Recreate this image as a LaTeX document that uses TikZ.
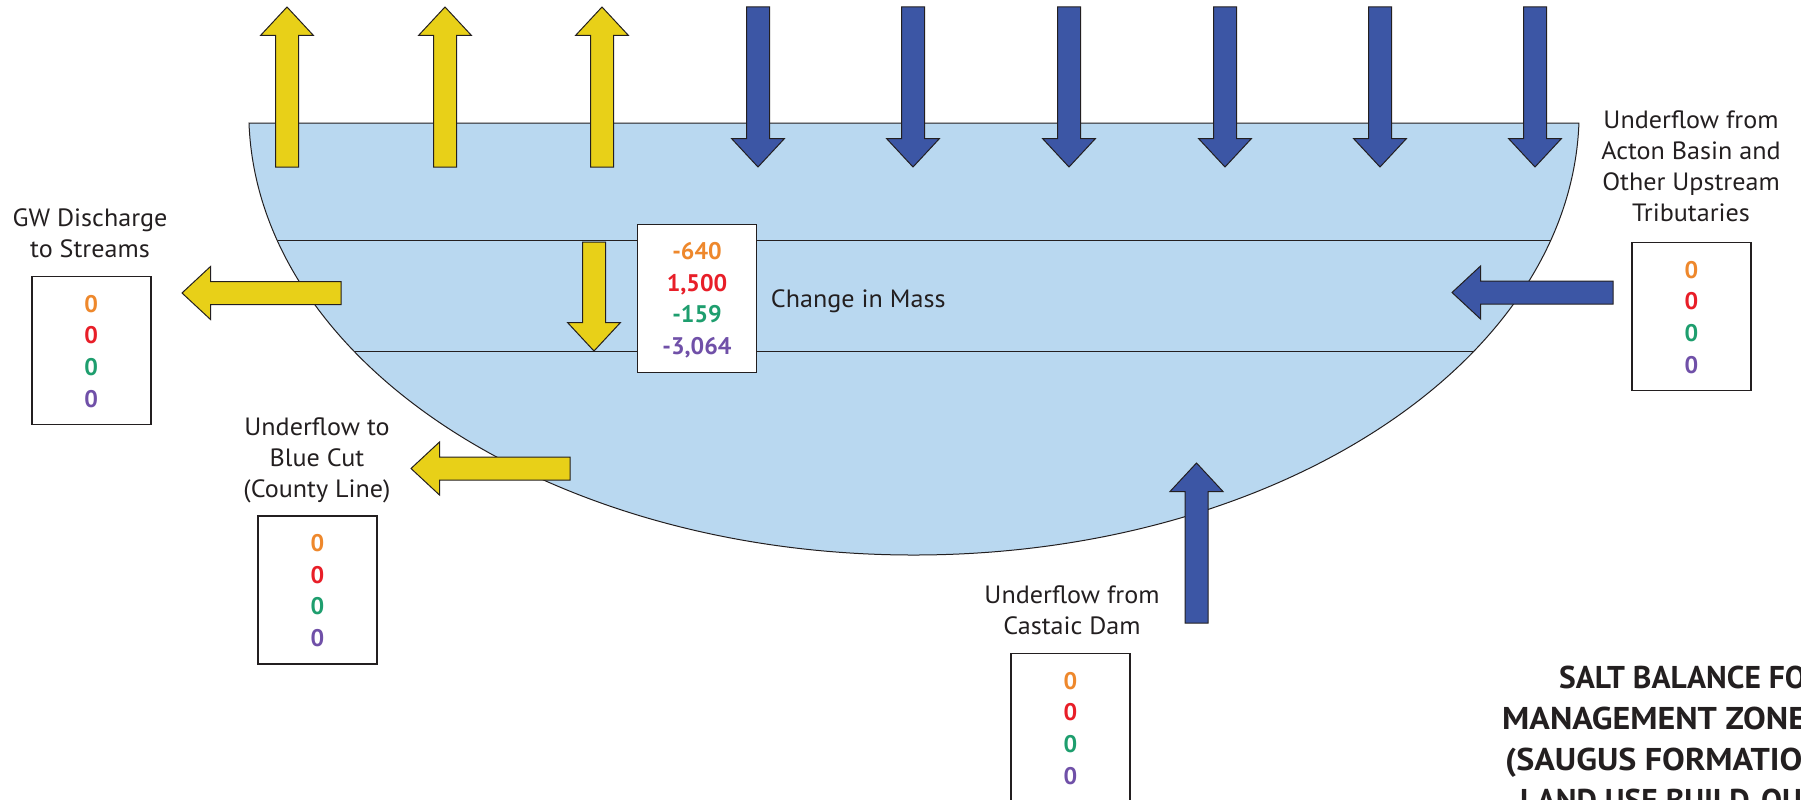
\documentclass[tikz,border=0pt]{standalone}
\usepackage{fontspec}
\setmainfont{PT Sans}
\newfontfamily\lblfont{PT Sans}[FakeStretch=1.045]
\newfontfamily\widefont{PT Sans}[FakeStretch=1.08]
\definecolor{tankblue}{RGB}{185,216,240}
\definecolor{ylw}{RGB}{232,208,24}
\definecolor{blu}{RGB}{60,86,165}
\definecolor{vorange}{RGB}{238,136,44}
\definecolor{vred}{RGB}{232,30,40}
\definecolor{vgreen}{RGB}{30,158,110}
\definecolor{vpurple}{RGB}{112,80,168}
\definecolor{ink}{RGB}{35,31,32}
\tikzset{
  pics/barrow/.style={code={\path[pic actions] (0,0) -- (-28.5,26.5) -- (-28.5,11.5) -- (-#1,11.5) -- (-#1,-11.5) -- (-28.5,-11.5) -- (-28.5,-26.5) -- cycle;}},
  yarrow/.style={draw=ink, fill=ylw, line width=1pt, line join=miter},
  barr/.style={draw=ink, fill=blu, line width=1pt, line join=miter},
  valbox/.style={draw=ink, fill=white, line width=1.6pt, minimum width=119pt, minimum height=148pt, inner sep=0pt},
  vals/.style={font=\fontsize{24}{31.7}\selectfont\bfseries, align=center, inner sep=0pt, text depth=0pt, anchor=south},
  lbl/.style={font=\lblfont\fontsize{25}{31}\selectfont, text=ink, align=center, inner sep=0pt, text depth=0pt, anchor=south},
  ttl/.style={font=\fontsize{31.5}{41}\selectfont\bfseries, text=ink, inner sep=0pt, anchor=base west},
  ttlw/.style={ttl, font=\widefont\fontsize{31.5}{41}\selectfont\bfseries},
}
\newcommand{\zeros}{{\color{vorange}0}\\{\color{vred}0}\\{\color{vgreen}0}\\{\color{vpurple}0}}
\begin{document}
\begin{tikzpicture}[x=1pt,y=-1pt]
\clip (0,0) rectangle (1801,800);
% tank
\filldraw[fill=tankblue, draw=ink, line width=1pt] (249,123) arc[start angle=178.58, end angle=1.42, x radius=665.2, y radius=443] -- cycle;
\draw[ink, line width=1pt] (277.5,240.7) -- (1550.5,240.7);
\draw[ink, line width=1pt] (354,351) -- (1474,351);
% up (yellow) arrows at top
\foreach \x in {287,445,602} \pic[yarrow, rotate=90] at (\x,7) {barrow=160};
% down (blue) arrows at top
\foreach \x in {758,913,1069,1225,1380,1535} \pic[barr, rotate=-90] at (\x,167) {barrow=160};
% middle yellow arrow
\pic[yarrow, rotate=-90] at (594,351) {barrow=109};
% left arrows
\pic[yarrow, rotate=180] at (182,293) {barrow=159};
\pic[yarrow, rotate=180] at (411,468.5) {barrow=159};
% right blue arrow
\pic[barr, rotate=180] at (1452,292.5) {barrow=161};
% bottom blue arrow
\pic[barr, rotate=90] at (1196.5,463) {barrow=160};
% change in mass box
\node[valbox] (chg) at (697,298.5) {};
\node[vals] (chgv) at ([yshift=18.5pt]chg.south) {{\color{vorange}-640}\\{\color{vred}1,500}\\{\color{vgreen}-159}\\{\color{vpurple}-3,064}};
\node[font=\lblfont\fontsize{25}{31}\selectfont, text=ink, inner sep=0pt, anchor=base west] (chgl) at (770.7,307.3) {Change in Mass};
% GW discharge
\node[valbox] (gw) at (91.2,350.5) {};
\node[vals] (gwv) at ([yshift=18pt]gw.south) {\zeros};
\node[lbl] (gwl) at (90,257.7) {GW Discharge\\to Streams};
% blue cut
\node[valbox] (bc) at (317.5,590) {};
\node[vals] (bcv) at ([yshift=18pt]bc.south) {\zeros};
\node[lbl] (bcl) at (317,497.7) {Underflow to\\Blue Cut\\(County Line)};
% acton
\node[valbox] (ac) at (1691.5,316.5) {};
\node[vals] (acv) at ([yshift=18pt]ac.south) {\zeros};
\node[lbl] (acl) at (1691,222) {Underflow from\\Acton Basin and\\Other Upstream\\Tributaries};
% castaic
\node[valbox] (cd) at (1070.5,727.5) {};
\node[vals] (cdv) at ([yshift=18pt]cd.south) {\zeros};
\node[lbl] (cdl) at (1072,634.7) {Underflow from\\Castaic Dam};
% title
\node[ttl] (t1) at (1559,688.3) {SALT BALANCE FOR};
\node[ttlw] (t2) at (1502,729.3) {MANAGEMENT ZONE};
\node[ttlw] (t3) at (1505,770.3) {(SAUGUS FORMATION)};
\node[ttl] (t4) at (1520,811.3) {LAND USE BUILD-OUT};
\end{tikzpicture}
\end{document}
